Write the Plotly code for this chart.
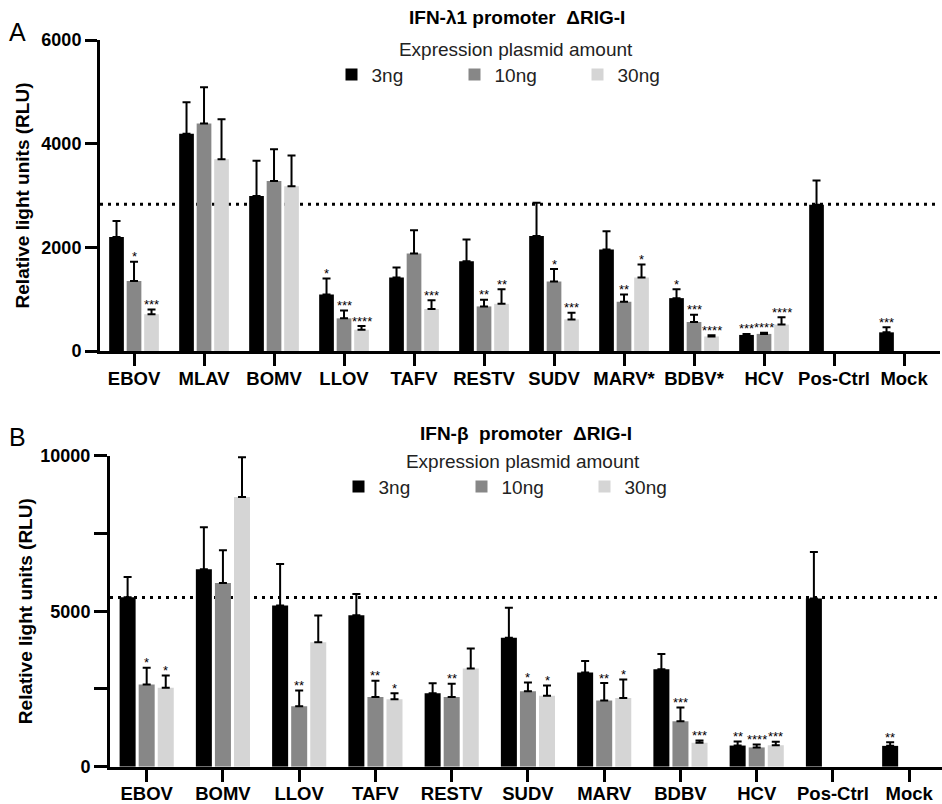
import plotly.graph_objects as go

# ---------------- data ----------------
series_names = ["3ng", "10ng", "30ng"]

cats_a = ["EBOV", "MLAV", "BOMV", "LLOV", "TAFV", "RESTV", "SUDV",
          "MARV*", "BDBV*", "HCV", "Pos-Ctrl", "Mock"]
a_3ng = [2200, 4190, 2990, 1090, 1420, 1730, 2220, 1960, 1020, 310, 2820, 360]
a_3ng_err = [310, 610, 680, 310, 190, 420, 640, 350, 170, 20, 470, 100]
a_10ng = [1350, 4390, 3280, 630, 1880, 860, 1340, 950, 560, 330, None, None]
a_10ng_err = [370, 700, 610, 150, 450, 130, 240, 140, 140, 20, None, None]
a_30ng = [710, 3700, 3180, 410, 810, 910, 610, 1420, 280, 510, None, None]
a_30ng_err = [90, 770, 590, 70, 170, 280, 130, 250, 25, 140, None, None]
a_stars_3ng = ["", "", "", "*", "", "", "", "", "*", "***", "", "***"]
a_stars_10ng = ["*", "", "", "***", "", "**", "*", "**", "***", "****", "", ""]
a_stars_30ng = ["***", "", "", "****", "***", "**", "***", "*", "****", "****", "", ""]
a_ref_line = 2830
a_yticks = [0, 2000, 4000, 6000]
a_yticklabels = ["0", "2000", "4000", "6000"]

cats_b = ["EBOV", "BOMV", "LLOV", "TAFV", "RESTV", "SUDV",
          "MARV", "BDBV", "HCV", "Pos-Ctrl", "Mock"]
b_3ng = [5450, 6350, 5180, 4870, 2360, 4150, 3030, 3130, 680, 5410, 670]
b_3ng_err = [650, 1350, 1340, 680, 320, 960, 370, 490, 130, 1490, 120]
b_10ng = [2640, 5910, 1940, 2240, 2240, 2430, 2130, 1460, 620, None, None]
b_10ng_err = [540, 1050, 510, 520, 430, 280, 560, 440, 90, None, None]
b_30ng = [2540, 8670, 4000, 2170, 3160, 2280, 2210, 770, 690, None, None]
b_30ng_err = [390, 1280, 860, 190, 640, 330, 590, 75, 110, None, None]
b_stars_3ng = ["", "", "", "", "", "", "", "", "**", "", "**"]
b_stars_10ng = ["*", "", "**", "**", "**", "*", "**", "***", "****", "", ""]
b_stars_30ng = ["*", "", "", "*", "", "*", "*", "***", "***", "", ""]
b_ref_line = 5440
b_yticks = [0, 5000, 10000]
b_yticklabels = ["0", "5000", "10000"]

# ---------------- style ----------------
colors = ["#000000", "#878787", "#d5d5d5"]
FONT = "Liberation Sans, Arial, sans-serif"
W, H = 942, 804
BARGAP = 0.25
BARGROUPGAP = 0.16

fig = go.Figure()

panels = [
    dict(cats=cats_a, vals=[a_3ng, a_10ng, a_30ng], errs=[a_3ng_err, a_10ng_err, a_30ng_err],
         stars=[a_stars_3ng, a_stars_10ng, a_stars_30ng], xa="x", ya="y", legend="legend"),
    dict(cats=cats_b, vals=[b_3ng, b_10ng, b_30ng], errs=[b_3ng_err, b_10ng_err, b_30ng_err],
         stars=[b_stars_3ng, b_stars_10ng, b_stars_30ng], xa="x2", ya="y2", legend="legend2"),
]

slot = (1 - BARGAP) / 3
annotations = []
for p in panels:
    for j in range(3):
        vals = p["vals"][j]
        errs = p["errs"][j]
        fig.add_trace(go.Bar(
            x=p["cats"], y=vals, name=series_names[j],
            marker=dict(color=colors[j], line=dict(width=0)),
            error_y=dict(type="data", symmetric=False, array=errs,
                         arrayminus=[0] * len(vals), color="black",
                         thickness=2, width=4),
            xaxis=p["xa"], yaxis=p["ya"], legend=p["legend"],
        ))
        for i, s in enumerate(p["stars"][j]):
            if s and vals[i] is not None:
                annotations.append(dict(
                    x=i + (j - 1) * slot, y=vals[i] + errs[i],
                    xref=p["xa"], yref=p["ya"], text=s, showarrow=False,
                    yanchor="middle", yshift=5,
                    font=dict(family=FONT, size=13, color="black")))

def px_x(v):
    return v / W

def px_y(v):
    return 1 - v / H

axis_common = dict(showline=True, linewidth=3, linecolor="black", ticks="outside",
                   tickwidth=3, tickcolor="black", showgrid=False, zeroline=False,
                   automargin=False)

fig.update_layout(
    width=W, height=H, margin=dict(l=0, r=0, t=0, b=0),
    paper_bgcolor="white", plot_bgcolor="white",
    barmode="group", bargap=BARGAP, bargroupgap=BARGROUPGAP,
    font=dict(family=FONT, color="black"),
    xaxis=dict(domain=[px_x(100), px_x(940)], anchor="y", type="category",
               range=[-0.486, 11.514], ticklen=12, ticklabelstandoff=-3,
               tickfont=dict(family=FONT, size=18.5, weight="bold"), **axis_common),
    yaxis=dict(domain=[px_y(351), px_y(40)], anchor="x", range=[0, 6000],
               tickvals=a_yticks, ticktext=a_yticklabels, ticklen=12,
               tickfont=dict(family=FONT, size=18, weight="bold"),
               title=dict(text="Relative light units (RLU)", standoff=7,
                          font=dict(family=FONT, size=19, weight="bold")),
               **axis_common),
    xaxis2=dict(domain=[px_x(110), 1.0], anchor="y2", type="category",
                range=[-0.481, 10.43], ticklen=12, ticklabelstandoff=-4,
                tickfont=dict(family=FONT, size=18.5, weight="bold"), **axis_common),
    yaxis2=dict(domain=[px_y(766.7), px_y(455.7)], anchor="x2", range=[0, 10000],
                tickvals=b_yticks, ticktext=b_yticklabels, ticklen=13,
                minor=dict(dtick=2500, ticks="outside", ticklen=13, tickwidth=3,
                           tickcolor="black", showgrid=False),
                tickfont=dict(family=FONT, size=18, weight="bold"),
                title=dict(text="Relative light units (RLU)", standoff=3,
                           font=dict(family=FONT, size=19, weight="bold")),
                **axis_common),
    legend=dict(orientation="h", x=px_x(516), xanchor="center", y=px_y(31), yanchor="top",
                title=dict(text="Expression plasmid amount", side="top center",
                           font=dict(family=FONT, size=19, color="#222")),
                font=dict(family=FONT, size=19, color="#222"),
                entrywidth=78, bgcolor="rgba(0,0,0,0)"),
    legend2=dict(orientation="h", x=px_x(523), xanchor="center", y=px_y(443), yanchor="top",
                 title=dict(text="Expression plasmid amount", side="top center",
                            font=dict(family=FONT, size=19, color="#222")),
                 font=dict(family=FONT, size=19, color="#222"),
                 entrywidth=78, bgcolor="rgba(0,0,0,0)"),
)

# reference dotted lines (positive-control level)
for ya, xd, yv in [("y", "x domain", a_ref_line), ("y2", "x2 domain", b_ref_line)]:
    fig.add_shape(type="line", xref=xd, x0=0, x1=1, yref=ya, y0=yv, y1=yv,
                  line=dict(color="black", width=3, dash="3px,5px"), layer="below")

# titles and panel letters
annotations += [
    dict(x=px_x(517), y=px_y(17), xref="paper", yref="paper", showarrow=False,
         text="IFN-λ1 promoter  ΔRIG-I", xanchor="center", yanchor="middle",
         font=dict(family=FONT, size=19, weight="bold", color="black")),
    dict(x=px_x(526), y=px_y(433), xref="paper", yref="paper", showarrow=False,
         text="IFN-β  promoter  ΔRIG-I", xanchor="center", yanchor="middle",
         font=dict(family=FONT, size=19, weight="bold", color="black")),
    dict(x=px_x(7), y=px_y(32), xref="paper", yref="paper", showarrow=False,
         text="A", xanchor="left", yanchor="middle",
         font=dict(family=FONT, size=25, color="black")),
    dict(x=px_x(7), y=px_y(437), xref="paper", yref="paper", showarrow=False,
         text="B", xanchor="left", yanchor="middle",
         font=dict(family=FONT, size=25, color="black")),
]
fig.update_layout(annotations=annotations)

fig.write_html("out.html", config={"displayModeBar": False},
               post_script="document.body.style.margin='0';document.body.style.overflow='hidden';")
